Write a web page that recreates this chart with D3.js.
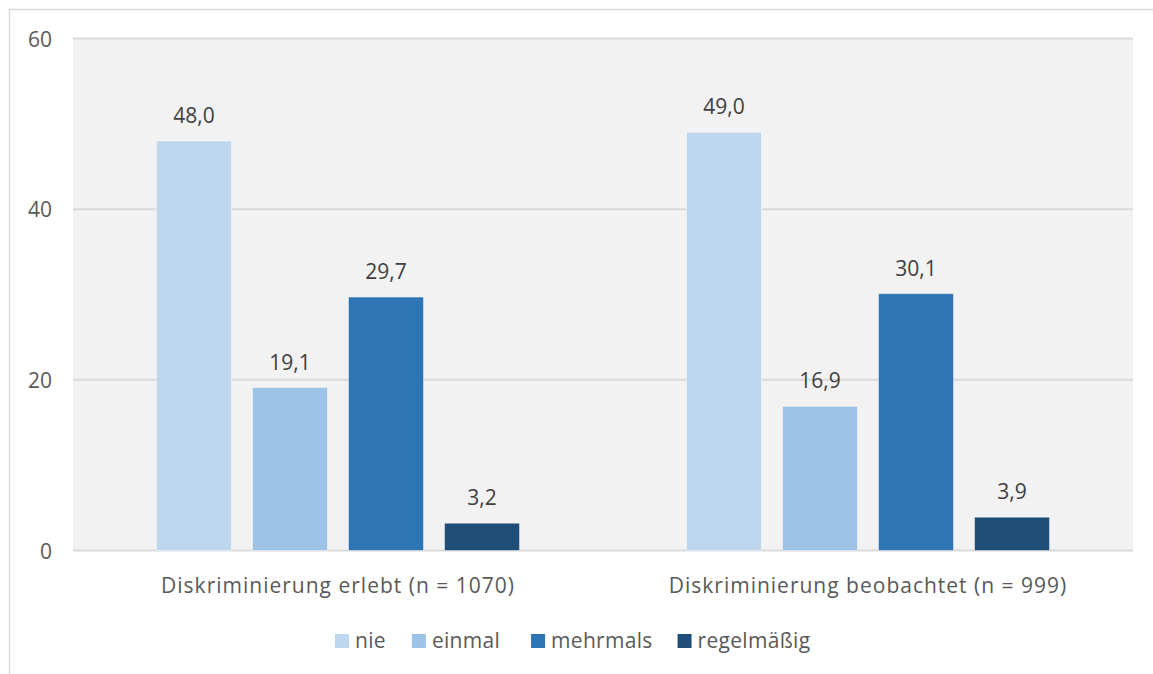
<!DOCTYPE html>
<html>
<head>
<meta charset="utf-8">
<script src="https://cdn.jsdelivr.net/npm/d3@7"></script>
<style>
  html, body { margin: 0; padding: 0; background: #fff; }
  svg { display: block; font-family: "Open Sans", "Noto Sans", sans-serif; }
</style>
</head>
<body>
<svg id="chart" width="1153" height="674"></svg>
<script>
// Survey results: frequency of discrimination experienced / observed (percent)
const categories = ["Diskriminierung erlebt (n = 1070)", "Diskriminierung beobachtet (n = 999)"];
const seriesNames = ["nie", "einmal", "mehrmals", "regelmäßig"];
const nieValues = [48.0, 49.0];
const einmalValues = [19.1, 16.9];
const mehrmalsValues = [29.7, 30.1];
const regelmaessigValues = [3.2, 3.9];
const yTicks = [0, 20, 40, 60];
const seriesColors = ["#BDD7EE", "#9DC3E6", "#2E75B6", "#1F4E79"];

const seriesValues = [nieValues, einmalValues, mehrmalsValues, regelmaessigValues];
const rows = categories.map((c, i) => ({
  category: c,
  values: seriesNames.map((s, j) => ({ series: s, value: seriesValues[j][i] }))
}));

const svg = d3.select("#chart");
const plot = { left: 73, right: 1133, top: 38.5, bottom: 550.5 };
const FONT = "'Open Sans', 'Noto Sans', sans-serif";

// outer frame
svg.append("rect")
  .attr("x", 9.5).attr("y", 9.5)
  .attr("width", 1170).attr("height", 700)
  .attr("fill", "none").attr("stroke", "#d9d9d9").attr("stroke-width", 1.5);

// plot area background
svg.append("rect")
  .attr("x", plot.left).attr("y", plot.top)
  .attr("width", plot.right - plot.left).attr("height", plot.bottom - plot.top)
  .attr("fill", "#f2f2f2");

const y = d3.scaleLinear().domain([0, 60]).range([plot.bottom, plot.top]);
const x0 = d3.scaleBand().domain(categories).range([plot.left, plot.right])
  .paddingInner(0.315).paddingOuter(0.1575);
const x1 = d3.scaleBand().domain(seriesNames).range([0, x0.bandwidth()])
  .paddingInner(0.219).paddingOuter(0);
const color = d3.scaleOrdinal().domain(seriesNames).range(seriesColors);

// gridlines
svg.append("g").selectAll("line").data(yTicks).join("line")
  .attr("x1", plot.left).attr("x2", plot.right)
  .attr("y1", d => y(d)).attr("y2", d => y(d))
  .attr("stroke", "#d9d9d9").attr("stroke-width", 2);

// y axis labels
const yAxis = d3.axisLeft(y).tickValues(yTicks).tickSize(0).tickPadding(0).tickFormat(d3.format("d"));
const yg = svg.append("g").attr("transform", `translate(52,0)`).call(yAxis);
yg.select(".domain").remove();
yg.selectAll("text")
  .attr("fill", "#595959").attr("dy", "0.36em")
  .style("font-size", "21px").style("font-family", FONT);

// bars
const groups = svg.append("g").selectAll("g").data(rows).join("g")
  .attr("transform", d => `translate(${x0(d.category)},0)`);

groups.selectAll("rect").data(d => d.values).join("rect")
  .attr("x", d => x1(d.series))
  .attr("y", d => y(d.value))
  .attr("width", x1.bandwidth())
  .attr("height", d => y(0) - y(d.value))
  .attr("fill", d => color(d.series))
  .attr("stroke", "rgba(255,255,255,0.45)").attr("stroke-width", 1);

const fmt = v => v.toFixed(1).replace(".", ",");
groups.selectAll("text").data(d => d.values).join("text")
  .attr("x", d => x1(d.series) + x1.bandwidth() / 2)
  .attr("y", d => y(d.value) - 18)
  .attr("text-anchor", "middle")
  .attr("fill", "#404040").style("font-size", "21px")
  .text(d => fmt(d.value));

// category axis labels
const xAxis = d3.axisBottom(x0).tickSize(0).tickPadding(0);
const xg = svg.append("g").attr("transform", `translate(0,${plot.bottom})`).call(xAxis);
xg.select(".domain").remove();
xg.selectAll("text")
  .attr("y", 42.5).attr("dy", 0)
  .attr("fill", "#595959")
  .style("font-size", "21px").style("letter-spacing", "1px").style("font-family", FONT);

// legend
const legend = svg.append("g");
const legendGaps = [26, 31, 25];
let lx = 335;
seriesNames.forEach((s, i) => {
  const item = legend.append("g").attr("transform", `translate(${lx},634)`);
  item.append("rect").attr("width", 14).attr("height", 14).attr("fill", color(s));
  const t = item.append("text").attr("x", 20).attr("y", 14)
    .attr("fill", "#595959").style("font-size", "21px").style("letter-spacing", "0.3px").text(s);
  lx += 20 + t.node().getComputedTextLength() + (legendGaps[i] || 0);
});
</script>
</body>
</html>
